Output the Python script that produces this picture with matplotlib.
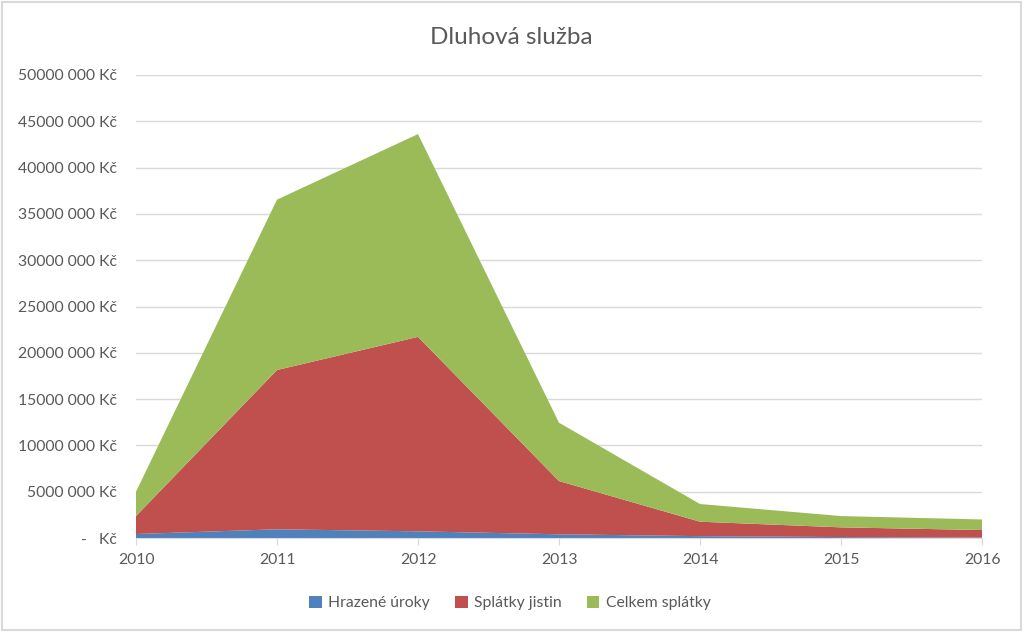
import numpy as np
import matplotlib.pyplot as plt
import matplotlib.ticker as ticker
from matplotlib.patches import Rectangle

years = [2010, 2011, 2012, 2013, 2014, 2015, 2016]
# values in Kč
hrazene_uroky = [430000, 940000, 720000, 400000, 200000, 100000, 50000]
splatky_jistin = [1940000, 17200000, 21000000, 5750000, 1560000, 1050000, 810000]
celkem_splatky = [2630000, 18400000, 21900000, 6300000, 1910000, 1220000, 1140000]

series_names = ["Hrazené úroky", "Splátky jistin", "Celkem splátky"]
colors = ["#4F81BD", "#C0504D", "#9BBB59"]

plt.rcParams['font.family'] = ['Lato', 'DejaVu Sans']
text_col = '#595959'

fig = plt.figure(figsize=(10.23, 6.32), dpi=100)
ax = fig.add_axes([136 / 1023, 1 - 538 / 632, (982 - 136) / 1023, (538 - 75) / 632])

ax.stackplot(years, hrazene_uroky, splatky_jistin, celkem_splatky,
             colors=colors, labels=series_names, zorder=2)

ax.set_xlim(2010, 2016)
ax.set_ylim(0, 50000000)
ax.yaxis.set_major_locator(ticker.MultipleLocator(5000000))


def fmt(v, pos):
    if v == 0:
        return '-   Kč'
    m = int(round(v)) // 1000000
    return f'{m}000 000 Kč'


ax.yaxis.set_major_formatter(ticker.FuncFormatter(fmt))
ax.set_xticks(years)
ax.grid(axis='y', color='#d9d9d9', linewidth=1, zorder=0)
ax.set_axisbelow(True)
for s in ['top', 'right', 'left']:
    ax.spines[s].set_visible(False)
ax.spines['bottom'].set_color('#d9d9d9')
ax.tick_params(axis='y', length=0, pad=14, labelsize=11.3, labelcolor=text_col)
ax.tick_params(axis='x', length=5, color='#d9d9d9', pad=6, labelsize=11.3, labelcolor=text_col)

fig.text(0.5, 1 - 37 / 632, "Dluhová služba", ha='center', va='center',
         fontsize=17.5, color=text_col)

handles, labels = ax.get_legend_handles_labels()
fig.legend(handles, labels, loc='center', bbox_to_anchor=(510 / 1023, 1 - 603 / 632),
           ncol=3, frameon=False, fontsize=11.3, labelcolor=text_col,
           handlelength=0.8, handleheight=0.8, handletextpad=0.4, columnspacing=1.6)

fig.patches.append(Rectangle((0.002, 0.003), 0.996, 0.994, transform=fig.transFigure,
                             fill=False, edgecolor='#d9d9d9', linewidth=1.5))

fig.savefig('out.png', dpi=100)
